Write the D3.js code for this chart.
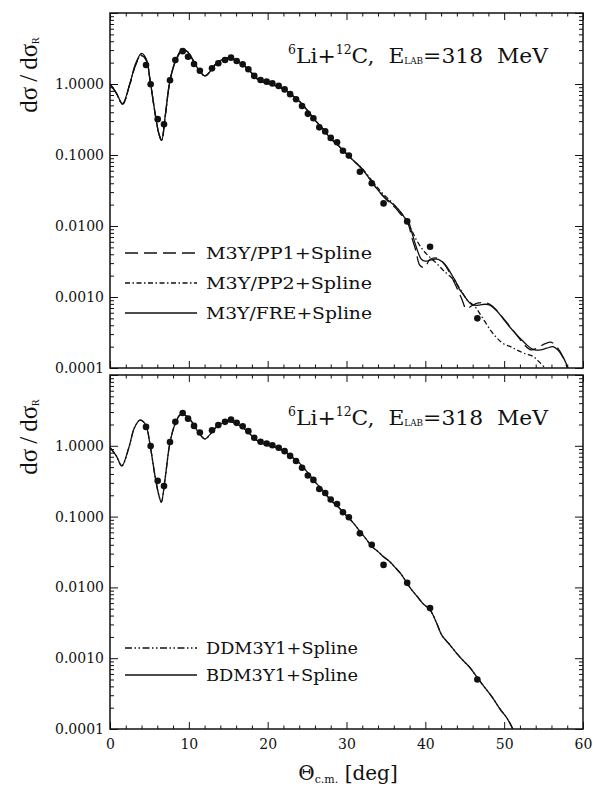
<!DOCTYPE html>
<html><head><meta charset="utf-8">
<script src="https://cdn.jsdelivr.net/npm/d3@7"></script>
<style>
body{margin:0;background:#fff}
svg{display:block}
text{font-family:"DejaVu Serif","Liberation Serif",serif;fill:#111}
</style>
</head><body>
<svg id="c" width="593" height="787"></svg>
<script>
// ---------- data ----------
const xTicks = [0, 10, 20, 30, 40, 50, 60];
const yTickLabels = [1e-4, 1e-3, 1e-2, 1e-1, 1];

// experimental points (same in both panels)
const expTheta = [4.57,5.16,6.05,6.85,7.61,8.29,9.22,9.9,10.66,11.4,12.94,13.74,14.59,15.35,16.07,16.83,17.55,18.3,19.1,19.87,20.6,21.4,22.15,22.85,23.6,24.36,25.1,25.8,26.55,27.3,28.0,28.8,29.55,30.3,31.7,33.2,34.7,37.7,40.6,46.6];
const expSigma = [1.85,0.99,0.32,0.27,1.13,2.18,2.9,2.42,1.91,1.54,1.66,1.96,2.18,2.35,2.11,1.89,1.61,1.30,1.14,1.08,1.02,0.94,0.84,0.72,0.61,0.49,0.38,0.33,0.245,0.215,0.174,0.151,0.115,0.098,0.058,0.040,0.0208,0.0116,0.0051,0.0005];

// top panel: M3Y/FRE+Spline (solid)
const freTheta = [0,0.8,1.6,2.5,3.3,4.0,4.6,5.1,5.7,6.2,6.55,7.0,7.6,8.3,9.2,9.9,10.6,11.3,12.05,12.7,13.3,14.2,15.0,16.0,16.9,17.8,18.6,19.6,20.7,21.5,22.4,23.2,24.1,25.0,26.0,27.0,28.0,29.0,29.6,30.3,30.8,31.9,33.2,34.0,34.7,35.5,36.2,36.8,37.4,37.85,38.3,38.7,39.1,39.5,40.0,40.6,41.1,41.65,42.2,42.7,43.3,43.8,44.3,44.8,45.4,45.9,46.4,46.9,47.6,48.2,49.0,49.9,50.6,51.4,52.2,52.9,53.4,53.9,54.6,55.4,56.2,56.8,57.5,58.1];
const freSigma = [1.0,0.75,0.53,1.0,2.0,2.7,2.25,1.1,0.4,0.2,0.16,0.35,1.1,2.1,3.1,2.8,2.1,1.55,1.3,1.5,1.85,2.2,2.35,2.15,1.85,1.5,1.2,1.05,0.97,0.9,0.8,0.68,0.56,0.43,0.31,0.235,0.17,0.135,0.115,0.097,0.085,0.065,0.042,0.032,0.026,0.022,0.019,0.016,0.013,0.0115,0.008,0.0057,0.0042,0.0034,0.0032,0.0033,0.0034,0.0034,0.0031,0.0027,0.0021,0.0017,0.0013,0.0011,0.00088,0.00078,0.00076,0.00077,0.00079,0.00077,0.00065,0.00049,0.00039,0.00031,0.00025,0.00021,0.00019,0.00018,0.00018,0.00019,0.0002,0.00018,0.00014,0.0001];

// top panel: M3Y/PP1+Spline (dashed)
const pp1Theta = [0,0.8,1.6,2.5,3.3,4.0,4.6,5.1,5.7,6.2,6.55,7.0,7.6,8.3,9.2,9.9,10.6,11.3,12.05,12.7,13.3,14.2,15.0,16.0,16.9,17.8,18.6,19.6,20.7,21.5,22.4,23.2,24.1,25.0,26.0,27.0,28.0,29.0,29.6,30.3,30.8,31.9,33.2,34.0,34.7,35.5,36.2,36.8,37.4,37.85,38.3,38.8,39.3,39.9,40.6,41.6,42.7,43.8,44.6,45.2,45.8,46.6,47.6,48.4,49.9,51.4,52.6,53.4,54.2,55.2,56.0,56.8,57.5,58.0];
const pp1Sigma = [1.0,0.74,0.52,0.98,1.9,2.5,2.15,1.08,0.4,0.2,0.16,0.35,1.1,2.05,3.0,2.75,2.1,1.55,1.3,1.5,1.85,2.2,2.3,2.15,1.85,1.5,1.2,1.05,0.97,0.9,0.8,0.68,0.56,0.43,0.31,0.235,0.17,0.135,0.115,0.097,0.085,0.065,0.042,0.032,0.026,0.021,0.018,0.015,0.0125,0.0105,0.0068,0.0045,0.0028,0.0026,0.0034,0.0035,0.0026,0.0015,0.00095,0.00068,0.00074,0.00082,0.00083,0.00076,0.0005,0.00031,0.00021,0.00018,0.00019,0.00022,0.00023,0.00019,0.00014,0.0001];

// top panel: M3Y/PP2+Spline (dash-dot)
const pp2Theta = [0,0.8,1.6,2.5,3.3,4.0,4.6,5.1,5.7,6.2,6.55,7.0,7.6,8.3,9.2,9.9,10.6,11.3,12.05,12.7,13.3,14.2,15.0,16.0,16.9,17.8,18.6,19.6,20.7,21.5,22.4,23.2,24.1,25.0,26.0,27.0,28.0,29.0,29.6,30.3,30.8,31.9,33.2,34.0,34.7,35.5,36.2,36.8,37.4,38.3,39.0,39.7,40.5,41.4,42.4,43.5,44.4,45.3,46.3,47.2,48.2,49.0,49.9,50.8,51.6,52.6,53.7,54.5,55.2];
const pp2Sigma = [1.0,0.74,0.52,0.98,1.95,2.6,2.2,1.1,0.4,0.2,0.16,0.35,1.1,2.1,3.05,2.8,2.1,1.55,1.3,1.5,1.85,2.2,2.35,2.15,1.85,1.5,1.2,1.05,0.97,0.9,0.8,0.68,0.56,0.43,0.31,0.235,0.17,0.135,0.115,0.097,0.085,0.066,0.044,0.034,0.028,0.023,0.019,0.016,0.013,0.0085,0.006,0.0046,0.0037,0.003,0.0023,0.0018,0.0013,0.00091,0.00073,0.00052,0.00035,0.00027,0.00022,0.0002,0.00018,0.00016,0.000145,0.00012,0.0001];

// bottom panel: BDM3Y1+Spline (solid)
const bdmTheta = [0,0.8,1.5,2.4,3.1,3.8,4.5,5.1,5.7,6.2,6.5,7.0,7.6,8.3,9.0,9.8,10.6,11.3,12.05,12.7,13.4,14.3,15.2,16.0,16.9,17.8,18.6,19.6,20.7,21.5,22.4,23.2,24.1,25.0,26.0,27.0,28.0,29.0,30.0,30.8,31.7,32.5,33.2,34.0,34.7,35.5,36.2,36.8,37.4,38.1,38.9,39.7,40.6,41.4,42.1,43.0,43.9,44.7,45.6,46.6,47.5,48.5,49.5,50.4,51.1];
const bdmSigma = [0.95,0.72,0.52,0.95,1.8,2.3,2.0,1.0,0.38,0.2,0.16,0.35,1.1,2.1,2.8,2.6,2.0,1.5,1.25,1.45,1.8,2.1,2.2,2.05,1.8,1.45,1.2,1.05,0.97,0.9,0.8,0.68,0.56,0.43,0.31,0.235,0.17,0.135,0.103,0.083,0.062,0.048,0.038,0.032,0.027,0.023,0.019,0.016,0.0129,0.0098,0.0076,0.0059,0.0048,0.0032,0.0021,0.0016,0.0012,0.00095,0.00075,0.00053,0.00039,0.00028,0.00019,0.00014,0.0001];

// bottom panel: DDM3Y1+Spline (dash-dot-dot)
const ddmTheta = bdmTheta.slice();
const ddmSigma = [0.95,0.72,0.52,0.95,1.8,2.3,2.0,1.0,0.38,0.2,0.16,0.35,1.1,2.1,2.8,2.6,2.0,1.5,1.25,1.45,1.8,2.1,2.2,2.05,1.8,1.45,1.2,1.05,0.97,0.9,0.8,0.68,0.56,0.43,0.31,0.235,0.17,0.135,0.103,0.083,0.062,0.048,0.038,0.032,0.027,0.023,0.019,0.016,0.0129,0.0098,0.0076,0.0059,0.0048,0.0032,0.0021,0.0016,0.0012,0.00095,0.00075,0.00053,0.00039,0.00028,0.00019,0.00014,0.0001];

const topLegend = ["M3Y/PP1+Spline", "M3Y/PP2+Spline", "M3Y/FRE+Spline"];
const bottomLegend = ["DDM3Y1+Spline", "BDM3Y1+Spline"];

// ---------- drawing ----------
const svg = d3.select("#c");
const x = d3.scaleLinear().domain([0, 60]).range([110, 583]);
const DASH = {solid: null, dash: "13,6", dashdot: "5,2.5,1.5,2.5", dashdotdot: "7,2.5,1.5,2.5,1.5,2.5"};

function zip(a, b) { return a.map((v, i) => [v, b[i]]); }

function drawPanel(p, idx) {
  const y = d3.scaleLog().domain([1e-4, 10]).range([p.bottom, p.top]);
  const g = svg.append("g");
  const clipId = "clip" + idx;
  svg.append("clipPath").attr("id", clipId).append("rect")
    .attr("x", x(0)).attr("y", p.top).attr("width", x(60) - x(0)).attr("height", p.bottom - p.top);

  const minor = [];
  for (let d = -4; d <= 0; d++) for (let k = 2; k <= 9; k++) minor.push(k * Math.pow(10, d));
  const majorY = [1e-4, 1e-3, 1e-2, 1e-1, 1, 10];
  const xMinor = d3.range(0, 61, 2).filter(v => v % 10 !== 0);

  g.append("g").attr("transform", `translate(${x(0)},0)`)
    .call(d3.axisLeft(y).tickValues(minor).tickFormat("").tickSize(-4).tickSizeOuter(0))
    .call(s => s.select(".domain").remove());
  g.append("g").attr("transform", `translate(${x(0)},0)`)
    .call(d3.axisLeft(y).tickValues(majorY).tickFormat("").tickSize(-8).tickSizeOuter(0))
    .call(s => s.select(".domain").remove());
  g.append("g").attr("transform", `translate(${x(0)},0)`)
    .call(d3.axisLeft(y).tickValues(yTickLabels).tickFormat(d3.format(".4f")).tickSize(0).tickPadding(6))
    .call(s => s.select(".domain").remove())
    .selectAll("text").style("font-size", "14px").style("font-family", '"DejaVu Serif",serif').attr("fill", "#111");
  g.append("g").attr("transform", `translate(${x(60)},0)`)
    .call(d3.axisRight(y).tickValues(minor).tickFormat("").tickSize(-4).tickSizeOuter(0))
    .call(s => s.select(".domain").remove());
  g.append("g").attr("transform", `translate(${x(60)},0)`)
    .call(d3.axisRight(y).tickValues(majorY).tickFormat("").tickSize(-8).tickSizeOuter(0))
    .call(s => s.select(".domain").remove());
  g.append("g").attr("transform", `translate(0,${p.bottom})`)
    .call(d3.axisBottom(x).tickValues(xMinor).tickFormat("").tickSize(-3.5).tickSizeOuter(0))
    .call(s => s.select(".domain").remove());
  const xb = g.append("g").attr("transform", `translate(0,${p.bottom})`)
    .call(d3.axisBottom(x).tickValues(xTicks).tickSize(-7).tickSizeOuter(0).tickPadding(10)
      .tickFormat(idx === 1 ? d3.format("d") : ""))
    .call(s => s.select(".domain").remove());
  xb.selectAll("text").style("font-size", "14px").style("font-family", '"DejaVu Serif",serif').attr("fill", "#111");
  g.append("g").attr("transform", `translate(0,${p.top})`)
    .call(d3.axisTop(x).tickValues(xMinor).tickFormat("").tickSize(-3.5).tickSizeOuter(0))
    .call(s => s.select(".domain").remove());
  g.append("g").attr("transform", `translate(0,${p.top})`)
    .call(d3.axisTop(x).tickValues(xTicks).tickFormat("").tickSize(-7).tickSizeOuter(0))
    .call(s => s.select(".domain").remove());
  g.selectAll(".tick line").attr("stroke", "#111").attr("stroke-width", 1);

  g.append("rect").attr("x", x(0)).attr("y", p.top).attr("width", x(60) - x(0)).attr("height", p.bottom - p.top)
    .attr("fill", "none").attr("stroke", "#111").attr("stroke-width", 1.5);

  const line = d3.line().x(d => x(d[0])).y(d => y(d[1])).curve(d3.curveCatmullRom.alpha(0.5));
  const cg = g.append("g").attr("clip-path", `url(#${clipId})`);
  p.series.forEach(s => {
    cg.append("path").attr("d", line(zip(s.t, s.v))).attr("fill", "none")
      .attr("stroke", "#111").attr("stroke-width", 1.3)
      .attr("stroke-dasharray", DASH[s.style]);
  });
  cg.selectAll("circle.pt").data(zip(expTheta, expSigma)).join("circle")
    .attr("class", "pt").attr("cx", d => x(d[0])).attr("cy", d => y(d[1])).attr("r", 3.3).attr("fill", "#111");

  p.legend.forEach((L, i) => {
    const ly = p.legendY + i * p.legendStep;
    g.append("line").attr("x1", 125).attr("x2", 197).attr("y1", ly).attr("y2", ly)
      .attr("stroke", "#111").attr("stroke-width", 1.3).attr("stroke-dasharray", DASH[L.style]);
    g.append("text").attr("x", 206).attr("y", ly + 6).style("font-size", "16.5px")
      .attr("textLength", L.w).attr("lengthAdjust", "spacingAndGlyphs").text(L.label);
  });

  const t = g.append("text").attr("x", 288).attr("y", p.top + 50).style("font-size", "21px")
    .attr("textLength", 260).attr("lengthAdjust", "spacingAndGlyphs");
  t.append("tspan").attr("font-size", "12px").attr("dy", -9).text("6");
  t.append("tspan").attr("dy", 9).text("Li+");
  t.append("tspan").attr("font-size", "12px").attr("dy", -9).text("12");
  t.append("tspan").attr("dy", 9).text("C,\u00a0\u00a0E");
  t.append("tspan").attr("font-size", "8.5px").attr("dy", 1).text("LAB");
  t.append("tspan").attr("dy", -1).text("=318\u00a0\u00a0MeV");

  const yl = g.append("text").attr("transform", `translate(37,${p.top + 62}) rotate(-90)`)
    .attr("text-anchor", "middle").style("font-size", "25px")
    .style("font-family", '"Liberation Serif",serif');
  yl.append("tspan").text("dσ\u2009/\u2009dσ");
  yl.append("tspan").attr("font-size", "10px").attr("dy", 2).text("R");
}

const panels = [
  {top: 13, bottom: 368, legendY: 253, legendStep: 30,
   series: [{t: pp1Theta, v: pp1Sigma, style: "dash"}, {t: pp2Theta, v: pp2Sigma, style: "dashdot"}, {t: freTheta, v: freSigma, style: "solid"}],
   legend: [{label: topLegend[0], style: "dash", w: 166}, {label: topLegend[1], style: "dashdot", w: 166}, {label: topLegend[2], style: "solid", w: 166}]},
  {top: 375, bottom: 729, legendY: 648, legendStep: 27,
   series: [{t: ddmTheta, v: ddmSigma, style: "dashdotdot"}, {t: bdmTheta, v: bdmSigma, style: "solid"}],
   legend: [{label: bottomLegend[0], style: "dashdotdot", w: 152}, {label: bottomLegend[1], style: "solid", w: 152}]}
];
panels.forEach(drawPanel);

const xt = svg.append("text").attr("x", 348).attr("y", 780).attr("text-anchor", "middle").style("font-size", "20px");
xt.append("tspan").text("Θ");
xt.append("tspan").attr("font-size", "11px").attr("dy", 3).text("c.m.");
xt.append("tspan").attr("dy", -3).text("\u00a0[deg]");
</script>
</body></html>
